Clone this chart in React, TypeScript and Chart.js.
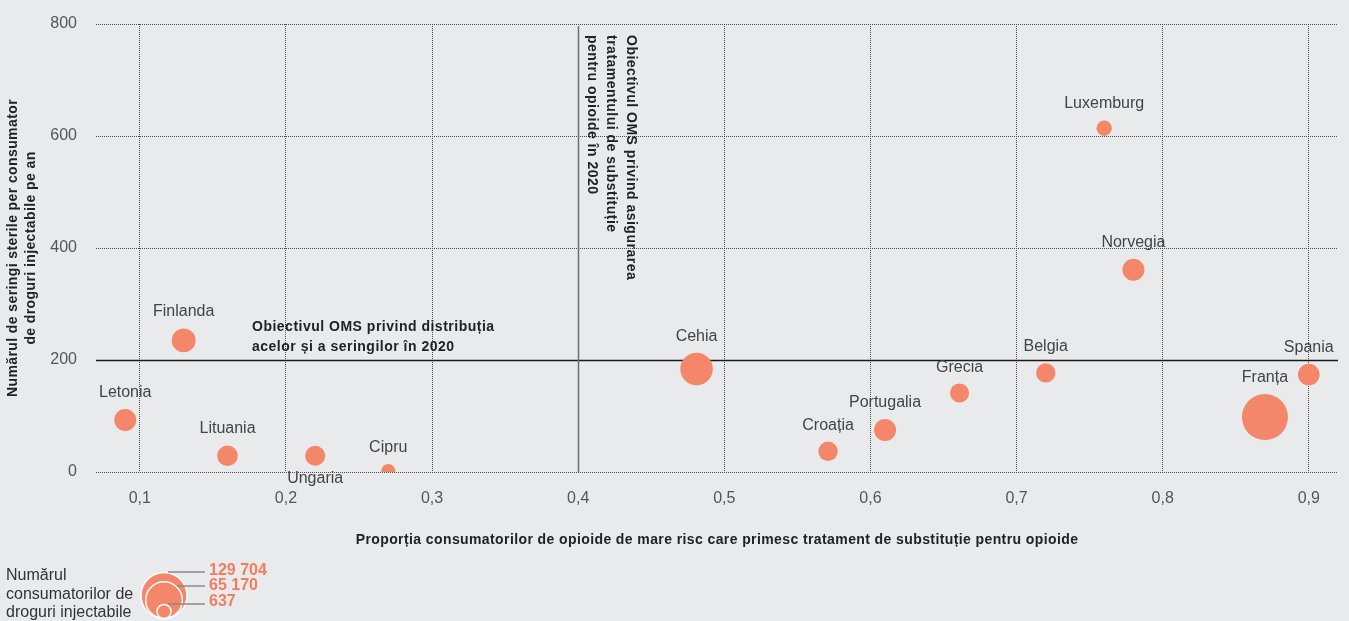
import React, { useEffect, useRef } from 'react';
import { Chart, registerables } from 'chart.js';

Chart.register(...registerables);

// ---------- DATA ----------
const countries = ['Letonia', 'Finlanda', 'Lituania', 'Ungaria', 'Cipru', 'Cehia', 'Croația', 'Portugalia', 'Grecia', 'Belgia', 'Franța', 'Spania', 'Luxemburg', 'Norvegia'];
const ostShare = [0.09, 0.13, 0.16, 0.22, 0.27, 0.481, 0.571, 0.61, 0.661, 0.72, 0.87, 0.90, 0.76, 0.78];
const syringesPerUser = [93, 235, 29, 29, 2, 184, 37, 75, 141, 177, 98, 174, 614, 361];
const injectingUsers = [8700, 13000, 6200, 5200, 637, 44000, 4300, 8700, 3800, 4300, 129704, 7900, 900, 8700];
const labelsBelow = ['Ungaria'];
const xTicks = [0.1, 0.2, 0.3, 0.4, 0.5, 0.6, 0.7, 0.8, 0.9];
const yTicks = [0, 200, 400, 600, 800];
const legendValues = [129704, 65170, 637];
const legendLabels = ['129 704', '65 170', '637'];
const targetSyringes = 200;
const targetOst = 0.4;

const yTitleLines = ['Numărul de seringi sterile per consumator', 'de droguri injectabile pe an'];
const xTitle = 'Proporția consumatorilor de opioide de mare risc care primesc tratament de substituție pentru opioide';
const hTargetLines = ['Obiectivul OMS privind distribuția', 'acelor și a seringilor în 2020'];
const vTargetLines = ['Obiectivul OMS privind asigurarea', 'tratamentului de substituție', 'pentru opioide în 2020'];
const legendTitleLines = ['Numărul', 'consumatorilor de', 'droguri injectabile'];

// ---------- STYLE ----------
const BG = '#e9eaec';
const BUBBLE = '#f4866a';
const ORANGE_TEXT = '#f27d5e';
const FONT = '"Liberation Sans", Arial, sans-serif';
const MIN_R = 7;
const MAX_R = 23;

const vMin = Math.min(...legendValues);
const vMax = Math.max(...legendValues);
const radius = (v: number) => MIN_R + (MAX_R - MIN_R) * Math.sqrt(Math.max(0, v - vMin) / (vMax - vMin));

const fmt = (v: number) => v.toFixed(1).replace('.', ',');

const overlayPlugin = {
  id: 'overlay',
  beforeDatasetsDraw(chart: any) {
    const { ctx, chartArea, scales } = chart;
    const xs = scales.x;
    const ys = scales.y;
    ctx.save();
    // WHO syringe target (horizontal)
    const yT = Math.round(ys.getPixelForValue(targetSyringes)) + 0.5;
    ctx.strokeStyle = '#1a1a1a';
    ctx.lineWidth = 1.5;
    ctx.beginPath();
    ctx.moveTo(chartArea.left, yT);
    ctx.lineTo(chartArea.right, yT);
    ctx.stroke();
    // WHO OST target (vertical)
    const xT = Math.round(xs.getPixelForValue(targetOst)) + 0.5;
    ctx.strokeStyle = '#6f6f6f';
    ctx.lineWidth = 1.5;
    ctx.beginPath();
    ctx.moveTo(xT, ys.getPixelForValue(800) + 2);
    ctx.lineTo(xT, ys.getPixelForValue(0));
    ctx.stroke();
    ctx.restore();
  },
  afterDatasetsDraw(chart: any) {
    const { ctx, chartArea, scales } = chart;
    const xs = scales.x;
    const ys = scales.y;
    const meta = chart.getDatasetMeta(0);
    ctx.save();

    // bubble labels
    ctx.font = `16px ${FONT}`;
    ctx.fillStyle = '#444';
    ctx.textAlign = 'center';
    ctx.textBaseline = 'alphabetic';
    meta.data.forEach((el: any, i: number) => {
      const r = radius(injectingUsers[i]);
      const name = countries[i];
      const y = labelsBelow.includes(name) ? el.y + r + 17 : el.y - r - 12;
      ctx.fillText(name, el.x, y);
    });

    // horizontal target annotation
    const yT = ys.getPixelForValue(targetSyringes);
    ctx.font = `bold 14px ${FONT}`;
    (ctx as any).letterSpacing = '0.5px';
    ctx.fillStyle = '#222';
    ctx.textAlign = 'left';
    hTargetLines.forEach((line, i) => {
      ctx.fillText(line, 252, yT - 29 + i * 20);
    });

    // vertical target annotation (rotated)
    const xT = xs.getPixelForValue(targetOst);
    vTargetLines.forEach((line, i) => {
      ctx.save();
      ctx.translate(xT + 49 - i * 19.7, 35);
      ctx.rotate(Math.PI / 2);
      ctx.textAlign = 'left';
      ctx.textBaseline = 'alphabetic';
      ctx.fillText(line, 0, 0);
      ctx.restore();
    });

    // axis titles
    const midY = (chartArea.top + chartArea.bottom) / 2;
    (ctx as any).letterSpacing = '0.4px';
    yTitleLines.forEach((line, i) => {
      ctx.save();
      ctx.translate(13 + i * 18, midY);
      ctx.rotate(-Math.PI / 2);
      ctx.textAlign = 'center';
      ctx.textBaseline = 'middle';
      ctx.fillText(line, 0, 0);
      ctx.restore();
    });
    ctx.font = `bold 14px ${FONT}`;
    ctx.textAlign = 'center';
    ctx.textBaseline = 'alphabetic';
    ctx.fillText(xTitle, (chartArea.left + chartArea.right) / 2, 544);
    (ctx as any).letterSpacing = '0px';

    // size legend
    ctx.font = `16px ${FONT}`;
    ctx.fillStyle = '#333';
    ctx.textAlign = 'left';
    legendTitleLines.forEach((line, i) => {
      ctx.fillText(line, 6, 580 + i * 18.5);
    });
    const cx = 164;
    const bottom = 618.5;
    legendValues.forEach((v) => {
      const r = radius(v);
      ctx.beginPath();
      ctx.arc(cx, bottom - r, r, 0, Math.PI * 2);
      ctx.fillStyle = BUBBLE;
      ctx.fill();
      ctx.strokeStyle = '#ffffff';
      ctx.lineWidth = 1.5;
      ctx.stroke();
    });
    const leaderY = [572, 586, 604];
    const leaderX0 = [168, 177, 168];
    ctx.strokeStyle = '#8a8a8a';
    ctx.lineWidth = 1.5;
    leaderY.forEach((y, i) => {
      ctx.beginPath();
      ctx.moveTo(leaderX0[i], y);
      ctx.lineTo(205, y);
      ctx.stroke();
    });
    ctx.font = `bold 16px ${FONT}`;
    ctx.fillStyle = ORANGE_TEXT;
    ctx.textBaseline = 'alphabetic';
    const labelBase = [575, 590, 606];
    legendLabels.forEach((t, i) => {
      ctx.fillText(t, 209, labelBase[i]);
    });

    ctx.restore();
  },
};

export default function App() {
  const canvasRef = useRef<HTMLCanvasElement | null>(null);

  useEffect(() => {
    const canvas = canvasRef.current;
    if (!canvas) return;
    const chart = new Chart(canvas, {
      type: 'bubble',
      data: {
        datasets: [
          {
            data: countries.map((c, i) => ({ x: ostShare[i], y: syringesPerUser[i], r: radius(injectingUsers[i]) })),
            backgroundColor: BUBBLE,
            borderWidth: 0,
            hoverRadius: 0,
          },
        ],
      },
      options: {
        animation: false,
        responsive: false,
        events: [],
        layout: { autoPadding: false, padding: { left: 0, right: 11, top: 24, bottom: 0 } },
        plugins: { legend: { display: false }, tooltip: { enabled: false } },
        scales: {
          x: {
            type: 'linear',
            z: 1,
            min: 0.07,
            max: 0.92,
            afterBuildTicks: (s: any) => {
              s.ticks = xTicks.map((v) => ({ value: v }));
            },
            afterFit: (s: any) => {
              s.height = 149;
              s.paddingLeft = 0;
              s.paddingRight = 0;
            },
            ticks: {
              callback: (v: any) => fmt(Number(v)),
              color: '#555',
              font: { family: FONT, size: 16 },
              padding: 17,
              autoSkip: false,
              maxRotation: 0,
            },
            grid: {
              color: (c: any) => (c.tick && Math.abs(c.tick.value - targetOst) < 1e-9 ? 'rgba(0,0,0,0)' : '#4a4a4a'),
              lineWidth: 1,
              drawTicks: false,
            },
            border: { display: false, dash: [1, 1] },
          },
          y: {
            type: 'linear',
            min: 0,
            max: 800,
            afterBuildTicks: (s: any) => {
              s.ticks = yTicks.map((v) => ({ value: v }));
            },
            afterFit: (s: any) => {
              s.width = 96;
              s.paddingTop = 0;
              s.paddingBottom = 0;
            },
            ticks: {
              color: '#555',
              font: { family: FONT, size: 16 },
              padding: 19,
            },
            grid: {
              color: (c: any) => (c.tick && c.tick.value === targetSyringes ? 'rgba(0,0,0,0)' : '#4a4a4a'),
              lineWidth: 1,
              drawTicks: false,
            },
            border: { display: false, dash: [1, 1] },
          },
        },
      },
      plugins: [overlayPlugin],
    } as any);
    return () => chart.destroy();
  }, []);

  return (
    <div style={{ position: 'absolute', left: 0, top: 0, width: 1349, height: 621, background: BG, overflow: 'hidden' }}>
      <canvas ref={canvasRef} width={1349} height={621} style={{ display: 'block', width: 1349, height: 621 }} />
    </div>
  );
}
